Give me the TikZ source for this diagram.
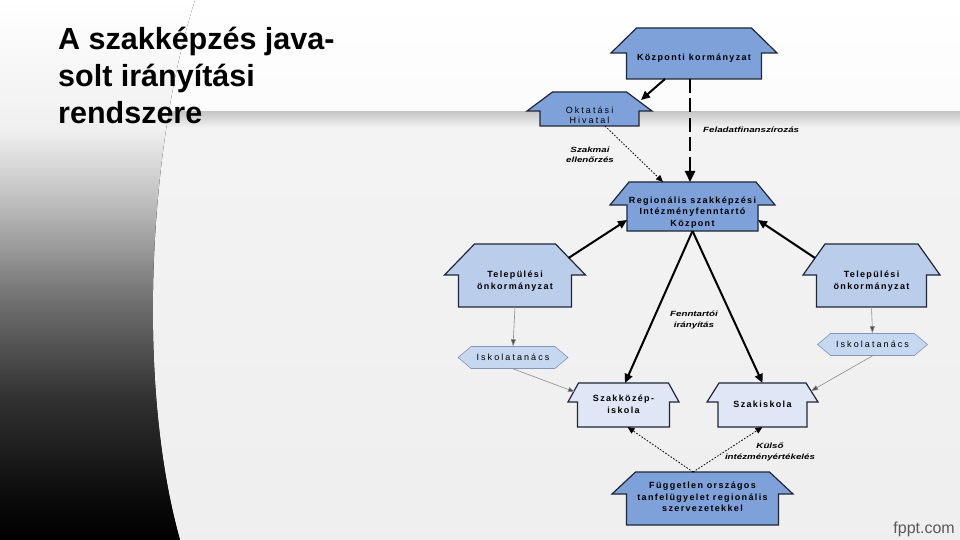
\documentclass[tikz,border=0pt]{standalone}
\usepackage{fontspec}
\setmainfont{Liberation Sans}
\newfontfamily\hazbetu[LetterSpace=15]{Liberation Sans}
\newfontfamily\tanacsbetu[LetterSpace=23]{Liberation Sans}
\newfontfamily\cimkebetu[FakeStretch=1.3]{Liberation Sans}
\usetikzlibrary{arrows.meta, calc, shapes.symbols}
\definecolor{sotetkek}{RGB}{125,161,216}
\definecolor{kozepkek}{RGB}{186,205,235}
\definecolor{tanacskek}{RGB}{198,215,240}
\definecolor{tanacskeret}{RGB}{130,150,185}
\definecolor{halvanykek}{RGB}{223,231,246}
\definecolor{keret}{RGB}{32,38,56}
\pgfdeclarelayer{lap}
\pgfdeclarelayer{hazak}
\pgfsetlayers{lap,hazak,main}
\pgfdeclareverticalshading{sarok}{100bp}{color(0bp)=(black); color(25bp)=(black);
  color(28.7bp)=(black!96); color(38bp)=(black!81); color(47.2bp)=(black!56);
  color(56.5bp)=(black!25); color(63bp)=(black!6); color(75bp)=(white); color(100bp)=(white)}
% haz felirata: sorok kozepre zarva
\newcommand{\felirat}[1]{\begin{tabular}{@{}c@{}}#1\end{tabular}}

\begin{document}
\begin{tikzpicture}[
    x=1pt, y=-1pt,
    haz/.style args={#1/#2/#3/#4}{
        rectangle, inner sep=0pt, outer sep=0pt, anchor=base,
        font=\hazbetu\bfseries\fontsize{9}{11.5}\selectfont,
        append after command={\pgfextra{
            \begin{pgfonlayer}{hazak}
            \path[#4, line width=1.2pt]
                ($(\tikzlastnode.south west)+(#1,0)$)
                -- ($(\tikzlastnode.north west)+(#1,#3)$)
                -- ($(\tikzlastnode.north west)+(0,#3)$)
                -- ($(\tikzlastnode.north west)+(#2,0)$)
                -- ($(\tikzlastnode.north east)+(-#2,0)$)
                -- ($(\tikzlastnode.north east)+(0,#3)$)
                -- ($(\tikzlastnode.north east)+(-#1,#3)$)
                -- ($(\tikzlastnode.south east)+(-#1,0)$) -- cycle;
            \end{pgfonlayer}}}
    },
    sotet/.style={fill=sotetkek, draw=keret},
    kozep/.style={fill=kozepkek, draw=keret},
    halvany/.style={fill=halvanykek, draw=keret},
    tanacs/.style={
        signal, signal to=east and west, signal pointer angle=80,
        fill=tanacskek, draw=tanacskeret, line width=0.6pt,
        inner sep=0pt, minimum width=110, minimum height=22,
        font=\tanacsbetu\fontsize{9}{10}\selectfont
    },
    cimke/.style={
        font=\cimkebetu\bfseries\itshape\fontsize{7.5}{10.5}\selectfont,
        align=center, inner sep=0pt
    },
    cim/.style={
        font=\bfseries\fontsize{30.5}{36.7}\selectfont,
        align=left, inner sep=0pt
    },
    vastag/.style={line width=2pt, -{Triangle[length=9pt, width=8pt]}},
    szaggatott/.style={line width=2.4pt, dash pattern=on 14pt off 5.5pt,
        -{Triangle[length=11pt, width=10pt]}},
    pontozott/.style={line width=0.8pt, dash pattern=on 1.6pt off 1.6pt,
        -{Triangle[length=7pt, width=6pt]}},
    vekony/.style={line width=0.6pt, draw=black!45,
        -{Triangle[length=7pt, width=5pt, fill=black!70]}}
]

\useasboundingbox (0,0) rectangle (960,540);

% Hatter
\begin{pgfonlayer}{lap}
\fill[top color=gray!8, bottom color=gray!13] (0,0) rectangle (960,540);
\fill[top color=white, bottom color=gray!3] (0,0) rectangle (960,112);
\fill[top color=black!22, bottom color=gray!8] (0,112) rectangle (960,128);
\fill[shading=sarok] (0,0) -- (195,0) .. controls (150,140) and (135,380) .. (180,540)
    -- (0,540) -- cycle;
\end{pgfonlayer}

% Cim
\node[cim, anchor=base west] (cim) at (58,123.4)
{
    A szakképzés java-\\
    solt irányítási\\
    rendszere
};

% Hazak
\node[haz=15.5/25.5/25/sotet, minimum width=166, text height=32.5pt, text depth=18.5pt]
    (kozp) at (694,60.5) {\felirat{Központi kormányzat}};
\node[haz=13/25.5/19/sotet, minimum width=125, text height=26.5pt, text depth=7.5pt,
    font=\tanacsbetu\fontsize{9}{10.5}\selectfont]
    (okt) at (589.5,118.5) {\felirat{Oktatási\\Hivatal}};
\node[haz=17/19/23/sotet, minimum width=165, text height=32.5pt, text depth=16.5pt]
    (reg) at (692.5,214.5) {\felirat{Regionális szakképzési\\Intézményfenntartó\\Központ}};
\node[haz=14/30/31/kozep, minimum width=141, text height=39.5pt, text depth=23.5pt]
    (telb) at (515,283.5) {\felirat{Települési\\önkormányzat}};
\node[haz=13.5/22/31/kozep, minimum width=137, text height=39.5pt, text depth=23.5pt]
    (telj) at (871.5,283.5) {\felirat{Települési\\önkormányzat}};
\node[haz=9.5/10.5/19/halvany, minimum width=111, text height=24.2pt, text depth=19.8pt]
    (szk) at (623.5,407.2) {\felirat{Szakközép-\\iskola}};
\node[haz=11/12/19/halvany, minimum width=111, text height=24pt, text depth=20pt]
    (szi) at (762.5,407) {\felirat{Szakiskola}};
\node[haz=14.5/23.5/22/sotet, minimum width=181, text height=28.3pt, text depth=24.7pt]
    (fugg) at (702.5,500.3) {\felirat{Független országos\\tanfelügyelet regionális\\szervezetekkel}};

% Iskolatanacsok
\node[tanacs] (iskb) at (513,357.5) {Iskolatanács};
\node[tanacs] (iskj) at (872.5,344.5) {Iskolatanács};

% Cimkek
\node[cimke] (szakm) at (590,155) {Szakmai\\ellenőrzés};
\node[cimke, anchor=base west] (fin) at (703,132.3) {Feladatfinanszírozás};
\node[cimke] (fennt) at (694,320) {Fenntartói\\irányítás};
\node[cimke] (kulso) at (770,452) {Külső\\intézményértékelés};

% Nyilak
\draw[vastag] ($(kozp.south)+(-29,0)$) -- ($(okt.north east)+(-11,8)$);
\draw[szaggatott] ($(kozp.south)+(-4,0)$) -- ($(reg.north)+(-2.5,0)$);
\draw[pontozott] ($(okt.south)+(15.5,0)$) -- ($(reg.north)+(-29.5,0)$);
\draw[vastag] ($(telb.north east)+(-17,14)$) -- ($(reg.south west)+(17,-11)$);
\draw[vastag] ($(telj.north west)+(12,14)$) -- ($(reg.south east)+(-17,-11)$);
\draw[vastag] (reg.south) -- ($(szk.north)+(1.5,0)$);
\draw[vastag] (reg.south) -- (szi.north);
\draw[vekony] (telb.south) -- (iskb.north);
\draw[vekony] (telj.south) -- (iskj.north);
\draw[vekony] (iskb.south) -- ($(szk.north west)+(7,9)$);
\draw[vekony] (iskj.south) -- ($(szi.north east)+(-7,8)$);
\draw[pontozott] ($(fugg.north)+(-9.5,0)$) -- ($(szk.south)+(4,0)$);
\draw[pontozott] ($(fugg.north)+(-9.5,0)$) -- (szi.south);

% Vizjel
\node[font=\fontsize{16}{16}\selectfont, text=black!65, anchor=base east, inner sep=0pt]
    (fppt) at (955,533) {fppt.com};

\end{tikzpicture}
\end{document}
